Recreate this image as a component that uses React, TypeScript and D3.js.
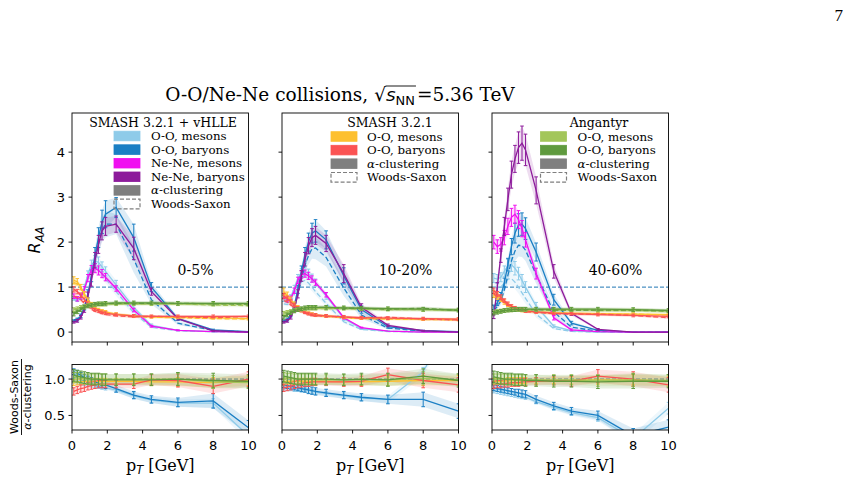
import React, { useRef, useEffect } from 'react';
import * as d3 from 'd3';

// transverse momentum bins [GeV]
const PT = [0.1, 0.3, 0.5, 0.7, 0.9, 1.1, 1.3, 1.5, 1.7, 1.9, 2.5, 3.5, 4.5, 6, 8, 10];
const X_TICKS = [0, 2, 4, 6, 8, 10];
const Y_TICKS_RAA = [0, 1, 2, 3, 4];
const Y_TICKS_RATIO = [0.5, 1.0];
const CENTRALITIES = ['0-5%', '10-20%', '40-60%'];

// ---- 0-5% ----
const vhOOMes05 = [0.75, 0.72, 0.78, 1.0, 1.28, 1.5, 1.58, 1.55, 1.45, 1.35, 1.05, 0.55, 0.15, 0.04, 0.01, 0.0];
const vhOOMesWS05 = [0.73, 0.69, 0.74, 0.94, 1.19, 1.38, 1.44, 1.4, 1.29, 1.19, 0.9, 0.43, 0.11, 0.03, 0.007, 0.0];
const vhOOMesErr05 = [0.04, 0.04, 0.05, 0.06, 0.08, 0.1, 0.12, 0.12, 0.11, 0.1, 0.1, 0.06, 0.03, 0.01, 0.01, 0.0];
const vhOOBar05 = [0.25, 0.28, 0.36, 0.55, 0.85, 1.25, 1.7, 2.1, 2.45, 2.62, 2.77, 2.1, 1.0, 0.3, 0.05, 0.01];
const vhOOBarWS05 = [0.27, 0.29, 0.37, 0.56, 0.85, 1.2, 1.6, 1.96, 2.26, 2.4, 2.4, 1.62, 0.72, 0.2, 0.035, 0.003];
const vhOOBarErr05 = [0.02, 0.03, 0.04, 0.06, 0.09, 0.13, 0.18, 0.22, 0.26, 0.3, 0.22, 0.3, 0.1, 0.04, 0.015, 0.005];
const vhNeMes05 = [0.8, 0.74, 0.78, 0.95, 1.2, 1.38, 1.42, 1.37, 1.3, 1.22, 0.97, 0.49, 0.13, 0.04, 0.01, 0.0];
const vhNeMesErr05 = [0.05, 0.05, 0.05, 0.06, 0.08, 0.1, 0.1, 0.1, 0.09, 0.08, 0.06, 0.04, 0.02, 0.01, 0.0, 0.0];
const vhNeBar05 = [0.22, 0.25, 0.33, 0.5, 0.8, 1.15, 1.6, 1.95, 2.25, 2.35, 2.4, 1.86, 0.9, 0.3, 0.03, 0.0];
const vhNeBarErr05 = [0.02, 0.03, 0.04, 0.06, 0.09, 0.13, 0.17, 0.2, 0.2, 0.2, 0.18, 0.25, 0.08, 0.03, 0.01, 0.0];
const smMes05 = [1.15, 1.12, 1.0, 0.85, 0.72, 0.62, 0.55, 0.5, 0.47, 0.45, 0.4, 0.36, 0.34, 0.33, 0.32, 0.3];
const smMesWS05 = [1.1, 1.08, 0.96, 0.82, 0.7, 0.6, 0.53, 0.49, 0.46, 0.44, 0.39, 0.35, 0.33, 0.32, 0.3, 0.29];
const smBar05 = [0.95, 0.9, 0.82, 0.72, 0.63, 0.56, 0.5, 0.47, 0.44, 0.42, 0.39, 0.36, 0.35, 0.35, 0.35, 0.35];
const smBarWS05 = [0.8, 0.77, 0.72, 0.64, 0.57, 0.51, 0.46, 0.44, 0.41, 0.39, 0.36, 0.34, 0.35, 0.34, 0.32, 0.35];
const anMes05 = [0.5, 0.52, 0.55, 0.57, 0.59, 0.6, 0.61, 0.62, 0.62, 0.62, 0.63, 0.63, 0.63, 0.63, 0.62, 0.62];
const anMesWS05 = [0.51, 0.53, 0.56, 0.57, 0.59, 0.6, 0.61, 0.62, 0.62, 0.62, 0.63, 0.63, 0.63, 0.63, 0.6, 0.59];
const anBar05 = [0.4, 0.45, 0.5, 0.55, 0.58, 0.6, 0.62, 0.63, 0.63, 0.64, 0.65, 0.65, 0.65, 0.64, 0.64, 0.64];
const anBarWS05 = [0.42, 0.47, 0.52, 0.56, 0.59, 0.6, 0.62, 0.63, 0.62, 0.63, 0.64, 0.64, 0.64, 0.64, 0.63, 0.62];

// ---- 10-20% ----
const vhOOMes1020 = [0.72, 0.7, 0.78, 0.98, 1.2, 1.32, 1.35, 1.3, 1.2, 1.1, 0.8, 0.3, 0.08, 0.02, 0.0, 0.0];
const vhOOMesWS1020 = [0.63, 0.61, 0.68, 0.84, 1.03, 1.12, 1.15, 1.09, 1.0, 0.9, 0.64, 0.23, 0.06, 0.015, 0.0, 0.0];
const vhOOMesErr1020 = [0.04, 0.04, 0.05, 0.06, 0.08, 0.09, 0.1, 0.1, 0.09, 0.08, 0.07, 0.04, 0.02, 0.01, 0.0, 0.0];
const vhOOBar1020 = [0.25, 0.28, 0.38, 0.6, 0.95, 1.35, 1.72, 2.0, 2.2, 2.25, 2.05, 1.25, 0.5, 0.12, 0.03, 0.01];
const vhOOBarWS1020 = [0.23, 0.25, 0.34, 0.53, 0.84, 1.17, 1.48, 1.7, 1.85, 1.87, 1.66, 0.98, 0.38, 0.09, 0.02, 0.0];
const vhOOBarErr1020 = [0.02, 0.03, 0.04, 0.06, 0.09, 0.12, 0.16, 0.2, 0.22, 0.25, 0.2, 0.18, 0.08, 0.03, 0.01, 0.0];
const vhNeMes1020 = [0.8, 0.72, 0.75, 0.92, 1.15, 1.28, 1.3, 1.25, 1.18, 1.1, 0.83, 0.32, 0.1, 0.02, 0.0, 0.0];
const vhNeMesErr1020 = [0.05, 0.05, 0.05, 0.06, 0.07, 0.08, 0.08, 0.08, 0.07, 0.06, 0.05, 0.03, 0.01, 0.0, 0.0, 0.0];
const vhNeBar1020 = [0.22, 0.25, 0.33, 0.52, 0.85, 1.25, 1.62, 1.92, 2.1, 2.15, 1.97, 1.3, 0.55, 0.15, 0.03, 0.0];
const vhNeBarErr1020 = [0.02, 0.03, 0.04, 0.06, 0.09, 0.12, 0.15, 0.18, 0.2, 0.2, 0.18, 0.2, 0.08, 0.03, 0.01, 0.0];
const smMes1020 = [0.9, 0.82, 0.72, 0.62, 0.55, 0.49, 0.45, 0.42, 0.4, 0.38, 0.36, 0.33, 0.31, 0.3, 0.29, 0.28];
const smMesWS1020 = [0.87, 0.8, 0.7, 0.6, 0.53, 0.48, 0.44, 0.41, 0.39, 0.37, 0.35, 0.32, 0.3, 0.29, 0.28, 0.27];
const smBar1020 = [0.8, 0.75, 0.67, 0.6, 0.53, 0.48, 0.44, 0.41, 0.39, 0.38, 0.36, 0.34, 0.32, 0.31, 0.3, 0.29];
const smBarWS1020 = [0.7, 0.67, 0.6, 0.55, 0.49, 0.45, 0.42, 0.39, 0.37, 0.36, 0.35, 0.33, 0.31, 0.33, 0.29, 0.27];
const anMes1020 = [0.42, 0.44, 0.46, 0.48, 0.5, 0.51, 0.52, 0.53, 0.53, 0.53, 0.53, 0.53, 0.52, 0.51, 0.5, 0.49];
const anMesWS1020 = [0.43, 0.45, 0.46, 0.48, 0.5, 0.51, 0.52, 0.53, 0.53, 0.52, 0.52, 0.52, 0.51, 0.5, 0.5, 0.49];
const anBar1020 = [0.33, 0.38, 0.43, 0.47, 0.5, 0.52, 0.54, 0.55, 0.55, 0.55, 0.55, 0.54, 0.53, 0.52, 0.51, 0.49];
const anBarWS1020 = [0.34, 0.39, 0.44, 0.47, 0.5, 0.52, 0.54, 0.55, 0.55, 0.55, 0.55, 0.53, 0.53, 0.51, 0.53, 0.48];

// ---- 40-60% ----
const vhOOMes4060 = [1.2, 1.18, 1.22, 1.35, 1.48, 1.5, 1.42, 1.3, 1.15, 1.0, 0.58, 0.13, 0.03, 0.0, 0.0, 0.0];
const vhOOMesWS4060 = [1.01, 0.98, 1.0, 1.09, 1.18, 1.19, 1.11, 1.0, 0.87, 0.75, 0.4, 0.08, 0.016, 0.0, 0.0, 0.0];
const vhOOMesErr4060 = [0.1, 0.1, 0.1, 0.12, 0.14, 0.15, 0.15, 0.14, 0.13, 0.12, 0.08, 0.03, 0.01, 0.0, 0.0, 0.0];
const vhOOBar4060 = [0.55, 0.65, 0.8, 1.1, 1.5, 1.9, 2.2, 2.38, 2.4, 2.3, 1.78, 0.72, 0.2, 0.04, 0.0, 0.0];
const vhOOBarWS4060 = [0.48, 0.57, 0.69, 0.94, 1.26, 1.58, 1.8, 1.93, 1.92, 1.82, 1.28, 0.45, 0.11, 0.02, 0.0, 0.0];
const vhOOBarErr4060 = [0.05, 0.06, 0.08, 0.1, 0.14, 0.18, 0.22, 0.25, 0.25, 0.24, 0.2, 0.12, 0.04, 0.01, 0.0, 0.0];
const vhNeMes4060 = [2.0, 1.9, 1.95, 2.1, 2.35, 2.55, 2.62, 2.5, 2.3, 2.05, 1.3, 0.32, 0.05, 0.01, 0.0, 0.0];
const vhNeMesErr4060 = [0.15, 0.15, 0.15, 0.16, 0.18, 0.2, 0.2, 0.2, 0.18, 0.16, 0.12, 0.05, 0.02, 0.0, 0.0, 0.0];
const vhNeBar4060 = [0.35, 1.0, 1.7, 2.35, 2.95, 3.5, 3.85, 4.1, 4.2, 4.05, 3.15, 1.35, 0.42, 0.06, 0.0, 0.0];
const vhNeBarErr4060 = [0.05, 0.1, 0.15, 0.2, 0.25, 0.3, 0.3, 0.35, 0.38, 0.35, 0.3, 0.15, 0.05, 0.02, 0.0, 0.0];
const smMes4060 = [0.85, 0.8, 0.74, 0.67, 0.61, 0.56, 0.53, 0.5, 0.48, 0.47, 0.45, 0.43, 0.42, 0.41, 0.4, 0.39];
const smMesWS4060 = [0.82, 0.78, 0.72, 0.65, 0.6, 0.55, 0.52, 0.49, 0.47, 0.46, 0.44, 0.42, 0.41, 0.4, 0.4, 0.38];
const smBar4060 = [0.92, 0.85, 0.78, 0.7, 0.63, 0.58, 0.54, 0.51, 0.49, 0.47, 0.45, 0.42, 0.41, 0.39, 0.37, 0.35];
const smBarWS4060 = [0.85, 0.79, 0.73, 0.66, 0.6, 0.55, 0.51, 0.49, 0.47, 0.45, 0.44, 0.41, 0.4, 0.4, 0.37, 0.32];
const anMes4060 = [0.45, 0.46, 0.47, 0.48, 0.49, 0.49, 0.5, 0.5, 0.5, 0.5, 0.5, 0.5, 0.5, 0.49, 0.49, 0.47];
const anMesWS4060 = [0.45, 0.46, 0.47, 0.48, 0.48, 0.49, 0.49, 0.5, 0.5, 0.5, 0.5, 0.5, 0.49, 0.48, 0.48, 0.46];
const anBar4060 = [0.42, 0.44, 0.46, 0.48, 0.49, 0.5, 0.5, 0.51, 0.51, 0.51, 0.51, 0.51, 0.51, 0.51, 0.5, 0.48];
const anBarWS4060 = [0.43, 0.45, 0.46, 0.48, 0.49, 0.5, 0.5, 0.5, 0.5, 0.5, 0.5, 0.49, 0.49, 0.49, 0.49, 0.47];

// SMASH / Angantyr uncertainties (same in every centrality class)
const smMesErr = [0.08, 0.07, 0.06, 0.05, 0.04, 0.04, 0.03, 0.03, 0.03, 0.03, 0.03, 0.03, 0.03, 0.03, 0.03, 0.03];
const smBarErr = [0.06, 0.05, 0.05, 0.04, 0.04, 0.03, 0.03, 0.03, 0.03, 0.03, 0.03, 0.03, 0.03, 0.03, 0.03, 0.03];
const anMesErr = [0.04, 0.04, 0.04, 0.04, 0.04, 0.04, 0.04, 0.04, 0.04, 0.04, 0.04, 0.04, 0.04, 0.04, 0.04, 0.04];
const anBarErr = [0.04, 0.04, 0.04, 0.04, 0.04, 0.04, 0.04, 0.04, 0.04, 0.04, 0.04, 0.04, 0.04, 0.04, 0.04, 0.04];

// ---- Woods-Saxon / alpha-clustering ratios ----
const rVhMes05 = [0.98, 0.96, 0.95, 0.94, 0.93, 0.92, 0.91, 0.9, 0.89, 0.88, 0.85, 0.77, 0.71, 0.67, 0.67, 0.22];
const rVhBar05 = [1.1, 1.08, 1.05, 1.02, 1.0, 0.98, 0.96, 0.94, 0.93, 0.92, 0.87, 0.78, 0.72, 0.68, 0.7, 0.33];
const rSmMes05 = [0.95, 0.96, 0.96, 0.97, 0.97, 0.97, 0.97, 0.97, 0.97, 0.97, 0.97, 0.97, 0.96, 0.96, 0.95, 0.98];
const rSmBar05 = [0.83, 0.85, 0.87, 0.88, 0.9, 0.91, 0.92, 0.93, 0.93, 0.93, 0.93, 0.93, 0.99, 0.98, 0.9, 1.0];
const rAnMes05 = [1.02, 1.02, 1.01, 1.0, 1.0, 1.0, 1.0, 1.0, 1.0, 1.0, 1.0, 1.0, 1.0, 1.0, 0.96, 0.95];
const rAnBar05 = [1.05, 1.04, 1.03, 1.02, 1.01, 1.0, 1.0, 1.0, 0.99, 0.99, 0.99, 0.99, 0.99, 1.0, 0.98, 0.97];

const rVhMes1020 = [0.88, 0.87, 0.87, 0.86, 0.86, 0.85, 0.85, 0.84, 0.83, 0.82, 0.8, 0.77, 0.74, 0.72, 1.1, 2.0];
const rVhBar1020 = [0.92, 0.91, 0.9, 0.89, 0.88, 0.87, 0.86, 0.85, 0.84, 0.83, 0.81, 0.78, 0.75, 0.72, 0.72, 0.56];
const rSmMes1020 = [0.96, 0.97, 0.97, 0.97, 0.97, 0.97, 0.97, 0.97, 0.97, 0.97, 0.97, 0.96, 0.96, 0.97, 0.98, 0.98];
const rSmBar1020 = [0.88, 0.89, 0.9, 0.92, 0.93, 0.94, 0.95, 0.95, 0.96, 0.96, 0.96, 0.96, 0.97, 1.06, 0.98, 0.92];
const rAnMes1020 = [1.02, 1.01, 1.01, 1.0, 1.0, 1.0, 1.0, 1.0, 1.0, 0.99, 0.99, 0.99, 0.99, 0.99, 1.01, 0.99];
const rAnBar1020 = [1.04, 1.03, 1.02, 1.01, 1.0, 1.0, 1.0, 1.0, 1.0, 1.0, 1.0, 0.99, 1.0, 0.99, 1.04, 0.98];

const rVhMes4060 = [0.84, 0.83, 0.82, 0.81, 0.8, 0.79, 0.78, 0.77, 0.76, 0.75, 0.69, 0.61, 0.54, 0.47, 0.18, 0.6];
const rVhBar4060 = [0.88, 0.87, 0.86, 0.85, 0.84, 0.83, 0.82, 0.81, 0.8, 0.79, 0.72, 0.63, 0.56, 0.5, 0.22, 0.34];
const rSmMes4060 = [0.97, 0.97, 0.97, 0.97, 0.98, 0.98, 0.98, 0.98, 0.98, 0.98, 0.98, 0.98, 0.98, 0.99, 0.99, 0.97];
const rSmBar4060 = [0.92, 0.93, 0.93, 0.94, 0.94, 0.95, 0.95, 0.95, 0.96, 0.96, 0.97, 0.98, 0.97, 1.04, 1.0, 0.92];
const rAnMes4060 = [1.0, 1.0, 1.0, 1.0, 0.99, 0.99, 0.99, 0.99, 0.99, 0.99, 0.99, 0.99, 0.99, 0.98, 0.99, 0.98];
const rAnBar4060 = [1.03, 1.02, 1.01, 1.0, 1.0, 1.0, 0.99, 0.99, 0.99, 0.98, 0.98, 0.97, 0.97, 0.96, 0.97, 0.97];

const rVhMesErr = [0.03, 0.03, 0.03, 0.03, 0.03, 0.03, 0.03, 0.03, 0.03, 0.03, 0.03, 0.04, 0.04, 0.05, 0.06, 0.08];
const rVhBarErr = [0.04, 0.04, 0.04, 0.04, 0.04, 0.04, 0.04, 0.05, 0.05, 0.05, 0.05, 0.05, 0.05, 0.06, 0.1, 0.1];
const rSmMesErr = [0.04, 0.04, 0.04, 0.04, 0.04, 0.04, 0.04, 0.04, 0.04, 0.04, 0.04, 0.04, 0.05, 0.06, 0.07, 0.07];
const rSmBarErr = [0.05, 0.05, 0.05, 0.05, 0.05, 0.05, 0.05, 0.05, 0.05, 0.05, 0.05, 0.06, 0.07, 0.09, 0.1, 0.1];
const rAnMesErr = [0.07, 0.07, 0.07, 0.07, 0.07, 0.07, 0.07, 0.07, 0.07, 0.07, 0.07, 0.07, 0.07, 0.08, 0.09, 0.08];
const rAnBarErr = [0.08, 0.08, 0.08, 0.08, 0.08, 0.08, 0.08, 0.08, 0.08, 0.08, 0.08, 0.08, 0.08, 0.09, 0.1, 0.09];

const C = {
  lightBlue: '#8ecbe9',
  blue: '#1b7fc4',
  magenta: '#f010f0',
  purple: '#8d1b9b',
  yellow: '#fdc030',
  red: '#fb5353',
  lightGreen: '#a3c65a',
  green: '#5f9a3e',
  gray: '#7f7f7f',
  ref: '#1f77b4',
};

const SERIF = 'DejaVu Serif';
const SANS = 'DejaVu Sans';

// layout
const PANEL_X = [72, 282, 492];
const PANEL_W = 176.5;
const TOP_Y0 = 113;
const TOP_Y1 = 342;
const BOT_Y0 = 364.5;
const BOT_Y1 = 430;

const App = () => {
  const svgRef = useRef<SVGSVGElement>(null);

  useEffect(() => {
    const svg = d3.select(svgRef.current);
    svg.selectAll('*').remove();

    const panels = [
      {
        top: [
          { color: C.lightBlue, a: vhOOMes05, ws: vhOOMesWS05, err: vhOOMesErr05 },
          { color: C.blue, a: vhOOBar05, ws: vhOOBarWS05, err: vhOOBarErr05 },
          { color: C.magenta, a: vhNeMes05, ws: null, err: vhNeMesErr05 },
          { color: C.purple, a: vhNeBar05, ws: null, err: vhNeBarErr05 },
          { color: C.yellow, a: smMes05, ws: smMesWS05, err: smMesErr },
          { color: C.red, a: smBar05, ws: smBarWS05, err: smBarErr },
          { color: C.lightGreen, a: anMes05, ws: anMesWS05, err: anMesErr },
          { color: C.green, a: anBar05, ws: anBarWS05, err: anBarErr },
        ],
        ratio: [rVhMes05, rVhBar05, rSmMes05, rSmBar05, rAnMes05, rAnBar05],
      },
      {
        top: [
          { color: C.lightBlue, a: vhOOMes1020, ws: vhOOMesWS1020, err: vhOOMesErr1020 },
          { color: C.blue, a: vhOOBar1020, ws: vhOOBarWS1020, err: vhOOBarErr1020 },
          { color: C.magenta, a: vhNeMes1020, ws: null, err: vhNeMesErr1020 },
          { color: C.purple, a: vhNeBar1020, ws: null, err: vhNeBarErr1020 },
          { color: C.yellow, a: smMes1020, ws: smMesWS1020, err: smMesErr },
          { color: C.red, a: smBar1020, ws: smBarWS1020, err: smBarErr },
          { color: C.lightGreen, a: anMes1020, ws: anMesWS1020, err: anMesErr },
          { color: C.green, a: anBar1020, ws: anBarWS1020, err: anBarErr },
        ],
        ratio: [rVhMes1020, rVhBar1020, rSmMes1020, rSmBar1020, rAnMes1020, rAnBar1020],
      },
      {
        top: [
          { color: C.lightBlue, a: vhOOMes4060, ws: vhOOMesWS4060, err: vhOOMesErr4060 },
          { color: C.blue, a: vhOOBar4060, ws: vhOOBarWS4060, err: vhOOBarErr4060 },
          { color: C.magenta, a: vhNeMes4060, ws: null, err: vhNeMesErr4060 },
          { color: C.purple, a: vhNeBar4060, ws: null, err: vhNeBarErr4060 },
          { color: C.yellow, a: smMes4060, ws: smMesWS4060, err: smMesErr },
          { color: C.red, a: smBar4060, ws: smBarWS4060, err: smBarErr },
          { color: C.lightGreen, a: anMes4060, ws: anMesWS4060, err: anMesErr },
          { color: C.green, a: anBar4060, ws: anBarWS4060, err: anBarErr },
        ],
        ratio: [rVhMes4060, rVhBar4060, rSmMes4060, rSmBar4060, rAnMes4060, rAnBar4060],
      },
    ];
    const ratioColors = [C.lightBlue, C.blue, C.yellow, C.red, C.lightGreen, C.green];
    const ratioErrs = [rVhMesErr, rVhBarErr, rSmMesErr, rSmBarErr, rAnMesErr, rAnBarErr];

    const defs = svg.append('defs');

    const drawBand = (g, x, y, vals, err, color) => {
      const area = d3.area()
        .x((_, k) => x(PT[k]))
        .y0((d, k) => y(d - err[k]))
        .y1((d, k) => y(d + err[k]));
      g.append('path').datum(vals).attr('d', area)
        .attr('fill', color).attr('opacity', 0.15).attr('stroke', 'none');
    };

    const drawLine = (g, x, y, vals, color, dashed) => {
      const line = d3.line().x((_, k) => x(PT[k])).y((d) => y(d));
      g.append('path').datum(vals).attr('d', line)
        .attr('fill', 'none').attr('stroke', color).attr('stroke-width', 1.3)
        .attr('stroke-dasharray', dashed ? '5,2.5' : null);
    };

    const drawBars = (g, x, y, vals, err, color) => {
      PT.forEach((p, k) => {
        const e = err[k];
        if (e < 0.008) return;
        const px = x(p);
        const lo = y(vals[k] - e);
        const hi = y(vals[k] + e);
        g.append('line').attr('x1', px).attr('x2', px).attr('y1', lo).attr('y2', hi)
          .attr('stroke', color).attr('stroke-width', 1);
        [lo, hi].forEach((yy) => {
          g.append('line').attr('x1', px - 1.8).attr('x2', px + 1.8).attr('y1', yy).attr('y2', yy)
            .attr('stroke', color).attr('stroke-width', 1);
        });
      });
    };

    const tickFont = (sel) => sel.attr('font-family', SANS).attr('font-size', 13).attr('fill', '#000');

    panels.forEach((panel, i) => {
      const x0 = PANEL_X[i];
      const x = d3.scaleLinear().domain([0, 10]).range([x0, x0 + PANEL_W]);
      const yTop = d3.scaleLinear().domain([-0.22, 4.87]).range([TOP_Y1, TOP_Y0]);
      const yBot = d3.scaleLinear().domain([0.3, 1.2]).range([BOT_Y1, BOT_Y0]);

      defs.append('clipPath').attr('id', `clip-top-${i}`)
        .append('rect').attr('x', x0).attr('y', TOP_Y0).attr('width', PANEL_W).attr('height', TOP_Y1 - TOP_Y0);
      defs.append('clipPath').attr('id', `clip-bot-${i}`)
        .append('rect').attr('x', x0).attr('y', BOT_Y0).attr('width', PANEL_W).attr('height', BOT_Y1 - BOT_Y0);

      // R_AA panel
      const gTop = svg.append('g').attr('clip-path', `url(#clip-top-${i})`);
      gTop.append('line').attr('x1', x(0)).attr('x2', x(10)).attr('y1', yTop(1)).attr('y2', yTop(1))
        .attr('stroke', C.ref).attr('stroke-width', 1).attr('stroke-dasharray', '4,2');
      panel.top.forEach((s) => {
        drawBand(gTop, x, yTop, s.a, s.err, s.color);
        if (s.ws) drawBand(gTop, x, yTop, s.ws, s.err, s.color);
      });
      panel.top.forEach((s) => {
        if (s.ws) drawLine(gTop, x, yTop, s.ws, s.color, true);
        drawLine(gTop, x, yTop, s.a, s.color, false);
        drawBars(gTop, x, yTop, s.a, s.err, s.color);
      });

      // ratio panel
      const gBot = svg.append('g').attr('clip-path', `url(#clip-bot-${i})`);
      gBot.append('line').attr('x1', x(0)).attr('x2', x(10)).attr('y1', yBot(1)).attr('y2', yBot(1))
        .attr('stroke', C.ref).attr('stroke-width', 1).attr('stroke-dasharray', '4,2');
      panel.ratio.forEach((r, k) => drawBand(gBot, x, yBot, r, ratioErrs[k], ratioColors[k]));
      panel.ratio.forEach((r, k) => {
        drawLine(gBot, x, yBot, r, ratioColors[k], false);
        drawBars(gBot, x, yBot, r, ratioErrs[k], ratioColors[k]);
      });

      // frames and ticks
      const axes = svg.append('g');
      [[TOP_Y0, TOP_Y1], [BOT_Y0, BOT_Y1]].forEach(([ya, yb]) => {
        axes.append('rect').attr('x', x0).attr('y', ya).attr('width', PANEL_W).attr('height', yb - ya)
          .attr('fill', 'none').attr('stroke', '#000').attr('stroke-width', 0.9);
        X_TICKS.forEach((t) => {
          axes.append('line').attr('x1', x(t)).attr('x2', x(t)).attr('y1', yb).attr('y2', yb + 3.5)
            .attr('stroke', '#000').attr('stroke-width', 0.9);
        });
      });
      Y_TICKS_RAA.forEach((t) => {
        axes.append('line').attr('x1', x0 - 3.5).attr('x2', x0).attr('y1', yTop(t)).attr('y2', yTop(t))
          .attr('stroke', '#000').attr('stroke-width', 0.9);
        if (i === 0) {
          axes.append('text').attr('x', x0 - 7).attr('y', yTop(t)).attr('dy', '0.36em')
            .attr('text-anchor', 'end').text(t).call(tickFont);
        }
      });
      Y_TICKS_RATIO.forEach((t) => {
        axes.append('line').attr('x1', x0 - 3.5).attr('x2', x0).attr('y1', yBot(t)).attr('y2', yBot(t))
          .attr('stroke', '#000').attr('stroke-width', 0.9);
        if (i === 0) {
          axes.append('text').attr('x', x0 - 7).attr('y', yBot(t)).attr('dy', '0.36em')
            .attr('text-anchor', 'end').text(d3.format('.1f')(t)).call(tickFont);
        }
      });
      X_TICKS.forEach((t) => {
        axes.append('text').attr('x', x(t)).attr('y', 449.5).attr('text-anchor', 'middle').text(t).call(tickFont);
      });

      // x label
      const xl = axes.append('text').attr('x', x(5)).attr('y', 470.5).attr('text-anchor', 'middle')
        .attr('font-family', SERIF).attr('font-size', 16);
      xl.append('tspan').text('p');
      xl.append('tspan').attr('font-family', SANS).attr('font-style', 'italic').attr('font-size', 11.5)
        .attr('dy', 3.5).text('T');
      xl.append('tspan').attr('dy', -3.5).text('\u00a0[GeV]');

      // centrality class
      axes.append('text').attr('x', x(7.0)).attr('y', 275).attr('text-anchor', 'middle')
        .attr('font-family', SERIF).attr('font-size', 14).text(CENTRALITIES[i]);
    });

    // legends
    const legends = [
      {
        title: 'SMASH 3.2.1 + vHLLE', titleX: 163, patchX: 114, textX: 151, rowY0: 136,
        entries: [[C.lightBlue, 'O-O, mesons'], [C.blue, 'O-O, baryons'], [C.magenta, 'Ne-Ne, mesons'],
          [C.purple, 'Ne-Ne, baryons'], [C.gray, 'α-clustering'], [null, 'Woods-Saxon']],
      },
      {
        title: 'SMASH 3.2.1', titleX: 390, patchX: 331, textX: 367, rowY0: 136.5,
        entries: [[C.yellow, 'O-O, mesons'], [C.red, 'O-O, baryons'], [C.gray, 'α-clustering'], [null, 'Woods-Saxon']],
      },
      {
        title: 'Angantyr', titleX: 599, patchX: 540.5, textX: 577.5, rowY0: 136.5,
        entries: [[C.lightGreen, 'O-O, mesons'], [C.green, 'O-O, baryons'], [C.gray, 'α-clustering'], [null, 'Woods-Saxon']],
      },
    ];
    legends.forEach((lg) => {
      const g = svg.append('g');
      g.append('text').attr('x', lg.titleX).attr('y', 126.5).attr('text-anchor', 'middle')
        .attr('font-family', SERIF).attr('font-size', 12.5).text(lg.title);
      lg.entries.forEach(([color, label], k) => {
        const cy = lg.rowY0 + k * 13.6;
        const r = g.append('rect').attr('x', lg.patchX).attr('y', cy - 4.8).attr('width', 26).attr('height', 9.6);
        if (color) r.attr('fill', color).attr('stroke', color).attr('stroke-width', 0.8);
        else r.attr('fill', 'none').attr('stroke', C.gray).attr('stroke-width', 1.2).attr('stroke-dasharray', '4,2');
        const t = g.append('text').attr('x', lg.textX).attr('y', cy + 4)
          .attr('font-family', SERIF).attr('font-size', 11.8);
        if (label.startsWith('α')) {
          t.append('tspan').attr('font-style', 'italic').text('α');
          t.append('tspan').text(label.slice(1));
        } else {
          t.text(label);
        }
      });
    });

    // y labels
    const yl = svg.append('text').attr('transform', 'translate(40,240) rotate(-90)')
      .attr('text-anchor', 'middle').attr('font-family', SANS).attr('font-size', 16);
    yl.append('tspan').attr('font-style', 'italic').text('R');
    yl.append('tspan').attr('font-style', 'italic').attr('font-size', 11.5).attr('dy', 3.5).text('AA');

    const rl = svg.append('g').attr('transform', 'translate(0,397) rotate(-90)');
    rl.append('text').attr('x', 0).attr('y', 18).attr('text-anchor', 'middle')
      .attr('font-family', SANS).attr('font-size', 11).text('Woods-Saxon');
    rl.append('line').attr('x1', -38).attr('x2', 38).attr('y1', 21.5).attr('y2', 21.5)
      .attr('stroke', '#000').attr('stroke-width', 0.9);
    const rlb = rl.append('text').attr('x', 0).attr('y', 31).attr('text-anchor', 'middle')
      .attr('font-family', SANS).attr('font-size', 11);
    rlb.append('tspan').attr('font-style', 'italic').text('α');
    rlb.append('tspan').text('-clustering');

    // title with sqrt(s_NN)
    const tg = svg.append('g');
    const base = 101;
    const TS = 18.5;
    const pieces = [
      { text: 'O-O/Ne-Ne collisions,', family: SERIF, size: TS, dy: 0, gap: TS * 0.32 },
      { text: '√', family: SANS, size: TS, dy: 0, key: 'rad' },
      { text: 's', family: SANS, size: TS, dy: 0, italic: true, key: 'arg0' },
      { text: 'NN', family: SANS, size: TS * 0.7, dy: 3.8, key: 'arg1', gap: 2 },
      { text: '=5.36 TeV', family: SERIF, size: TS, dy: 0 },
    ];
    let cx = 0;
    const pos = {};
    pieces.forEach((pc) => {
      const t = tg.append('text').attr('x', cx).attr('y', base + pc.dy)
        .attr('font-family', pc.family).attr('font-size', pc.size)
        .attr('font-style', pc.italic ? 'italic' : 'normal').text(pc.text);
      const w = (t.node() as SVGTextElement).getComputedTextLength();
      if (pc.key) pos[pc.key] = [cx, cx + w];
      cx += w + (pc.gap || 0);
    });
    tg.append('line').attr('x1', pos['rad'][1] - 0.5).attr('x2', pos['arg1'][1] + 1)
      .attr('y1', base - 15).attr('y2', base - 15).attr('stroke', '#000').attr('stroke-width', 0.9);
    tg.attr('transform', `translate(${340 - cx / 2},0)`);

    // page number
    svg.append('text').attr('x', 843).attr('y', 21).attr('text-anchor', 'end')
      .attr('font-family', 'Liberation Serif').attr('font-size', 17).text('7');
  }, []);

  return (
    <svg ref={svgRef} width={853} height={480}
      style={{ position: 'absolute', left: 0, top: 0, background: '#fff' }} />
  );
};

export default App;
